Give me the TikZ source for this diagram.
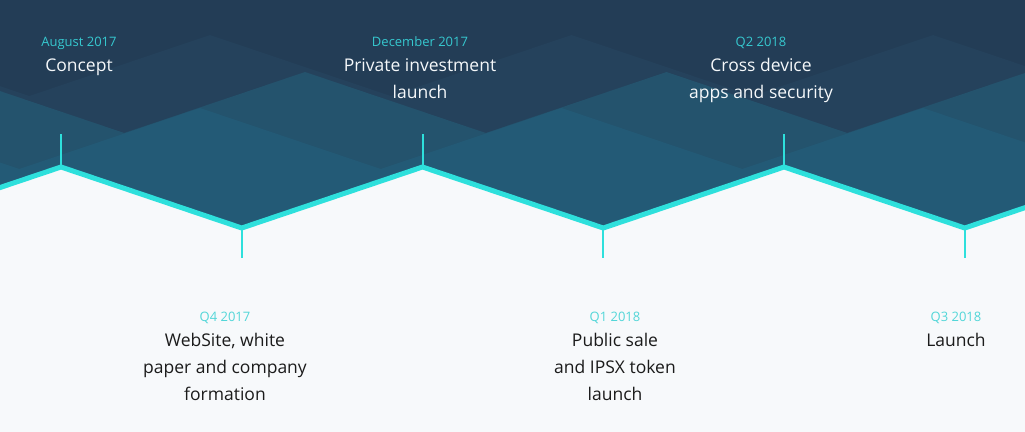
\documentclass[tikz,border=0pt]{standalone}
\usepackage{fontspec}
\setmainfont{Open Sans}
\definecolor{bgtop}{HTML}{233D56}
\definecolor{layA}{HTML}{25425C}
\definecolor{layB}{HTML}{24536D}
\definecolor{layC}{HTML}{235A76}
\definecolor{paper}{HTML}{F7F9FB}
\definecolor{zig}{HTML}{2EE0DC}
\definecolor{datetop}{HTML}{36C8CF}
\definecolor{datebot}{HTML}{52D6D8}
\definecolor{txtbot}{HTML}{1B1B1B}
\definecolor{txttop}{HTML}{F5F8FA}
\tikzset{
  zigline/.style={draw=zig,line width=5pt,line join=miter},
  tick/.style={draw=zig,line width=2pt},
  datetxt/.style={inner sep=0pt,anchor=base,font=\fontsize{13}{16}\selectfont},
  labeltxt/.style={inner sep=0pt,anchor=base,align=center,font=\fontsize{17.5}{27}\selectfont},
}
\newcommand\zzlayer[3]{%
  \fill[#1] (-900,520) -- (-900,{#3+61})
    \foreach \k in {-3,...,4} { -- ({#2+361.5*\k},#3) -- ({#2+180.75+361.5*\k},{#3+61}) }
    -- (2200,{#3+61}) -- (2200,520) -- cycle;}
\begin{document}
\begin{tikzpicture}[x=1pt,y=-1pt]
\useasboundingbox (0,0) rectangle (1025,431);
\begin{scope}
\clip (-5,-5) rectangle (1030,440);
\fill[bgtop] (-10,-10) rectangle (1040,520);
\zzlayer{layA}{210}{35}
\zzlayer{layB}{305}{72}
\zzlayer{layC}{200}{108}
\zzlayer{paper}{61}{167}
\end{scope}
% zigzag line
\coordinate (z0) at (-20,194.3);
\coordinate (m1) at (61,167);
\coordinate (m2) at (241.75,228);
\coordinate (m3) at (422.5,167);
\coordinate (m4) at (603.25,228);
\coordinate (m5) at (784,167);
\coordinate (m6) at (964.75,228);
\coordinate (z7) at (1045,200.9);
\path[zigline] (z0) -- (m1) -- (m2) -- (m3) -- (m4) -- (m5) -- (m6) -- (z7);
% ticks
\coordinate (t1) at (61,134);
\coordinate (t2) at (241.75,258);
\coordinate (t3) at (422.5,134);
\coordinate (t4) at (603.25,258);
\coordinate (t5) at (784,134);
\coordinate (t6) at (964.75,258);
\path[tick] (m1) -- (t1);
\path[tick] (m2) -- (t2);
\path[tick] (m3) -- (t3);
\path[tick] (m4) -- (t4);
\path[tick] (m5) -- (t5);
\path[tick] (m6) -- (t6);
% top labels (base anchor = baseline of last line)
\node[datetxt,text=datetop] (d1) at (79,46) {August 2017};
\node[labeltxt,text=txttop] (l1) at (79,71) {Concept};
\node[datetxt,text=datetop] (d3) at (420,46) {December 2017};
\node[labeltxt,text=txttop] (l3) at (420,98) {Private investment\\launch};
\node[datetxt,text=datetop] (d5) at (761,46) {Q2 2018};
\node[labeltxt,text=txttop] (l5) at (761,98) {Cross device\\apps and security};
% bottom labels
\node[datetxt,text=datebot] (d2) at (225,321) {Q4 2017};
\node[labeltxt,text=txtbot] (l2) at (225,400) {WebSite, white\\paper and company\\formation};
\node[datetxt,text=datebot] (d4) at (615,321) {Q1 2018};
\node[labeltxt,text=txtbot] (l4) at (615,400) {Public sale\\and IPSX token\\launch};
\node[datetxt,text=datebot] (d6) at (956,321) {Q3 2018};
\node[labeltxt,text=txtbot] (l6) at (956,346) {Launch};
\end{tikzpicture}
\end{document}
